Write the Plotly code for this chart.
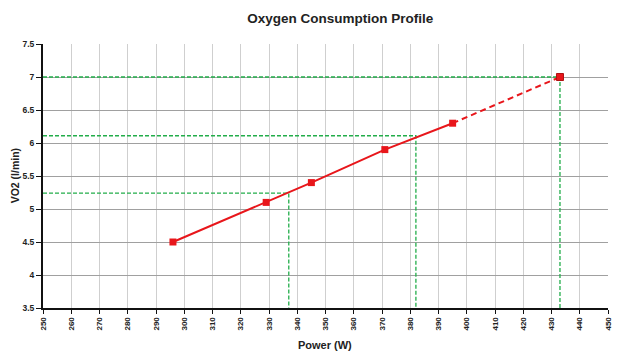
import plotly.graph_objects as go

power_measured = [296, 329, 345, 371, 395]
vo2_measured = [4.5, 5.1, 5.4, 5.9, 6.3]
power_extrap = [395, 433]
vo2_extrap = [6.3, 7.0]
guide_power = [337, 382, 433]
guide_vo2 = [5.24, 6.11, 7.0]
x_ticks = list(range(250, 451, 10))
y_ticks = [3.5, 4, 4.5, 5, 5.5, 6, 6.5, 7, 7.5]
y_tick_labels = ["3.5", "4", "4.5", "5", "5.5", "6", "6.5", "7", "7.5"]

FONT = "Liberation Sans Narrow, Arial Narrow, Liberation Sans, Arial"
RED = "#e8161b"
GREEN = "#22ad4a"

fig = go.Figure()
for gx, gy in zip(guide_power, guide_vo2):
    fig.add_trace(go.Scatter(x=[250, gx, gx], y=[gy, gy, 3.5], mode="lines",
                             line=dict(color=GREEN, width=1.3, dash="4px,2px"),
                             hoverinfo="skip", showlegend=False))
fig.add_trace(go.Scatter(x=power_extrap, y=vo2_extrap, mode="lines",
                         line=dict(color=RED, width=2, dash="6px,4px"), showlegend=False))
fig.add_trace(go.Scatter(x=power_extrap[-1:], y=vo2_extrap[-1:], mode="markers",
                         marker=dict(color=RED, symbol="square", size=7,
                                     line=dict(color="#b01010", width=1)), showlegend=False))
fig.add_trace(go.Scatter(x=power_measured, y=vo2_measured, mode="lines+markers",
                         line=dict(color=RED, width=2),
                         marker=dict(color=RED, symbol="square", size=7), showlegend=False))

fig.update_layout(
    width=622, height=343,
    margin=dict(l=35, r=22, t=36, b=43, autoexpand=False),
    paper_bgcolor="white", plot_bgcolor="white",
    font=dict(family=FONT, color="#222222"),
    title=dict(text="<b>Oxygen Consumption Profile</b>", x=0.534, xanchor="center",
               y=0.971, yanchor="middle", automargin=False,
               font=dict(size=13.5, family=FONT, color="#222222")),
    xaxis=dict(range=[250, 450], tickvals=x_ticks, ticktext=[str(v) for v in x_ticks],
               tickangle=-90, tickfont=dict(size=8, family=FONT, weight="bold"),
               showgrid=True, gridcolor="#cfcfcf", gridwidth=1,
               showline=True, linecolor="#111111", linewidth=2,
               ticks="outside", ticklen=4, tickcolor="#111111",
               zeroline=False, automargin=False),
    yaxis=dict(range=[3.5, 7.5], tickvals=y_ticks, ticktext=y_tick_labels,
               tickfont=dict(size=8.5, family=FONT, weight="bold"),
               showgrid=True, gridcolor="#a0a0a0", gridwidth=1,
               showline=True, linecolor="#111111", linewidth=2,
               ticks="outside", ticklen=5, tickcolor="#111111",
               zeroline=False, automargin=False),
    annotations=[
        dict(text="<b>Power (W)</b>", xref="paper", yref="paper", x=0.499, y=-0.140,
             xanchor="center", yanchor="middle", showarrow=False,
             font=dict(size=11, family=FONT, color="#222222")),
        dict(text="<b>VO2 (l/min)</b>", xref="paper", yref="paper", x=-0.049, y=0.5,
             xanchor="center", yanchor="middle", showarrow=False, textangle=-90,
             font=dict(size=10.5, family=FONT, color="#222222")),
    ],
)
fig.write_html("out.html")
